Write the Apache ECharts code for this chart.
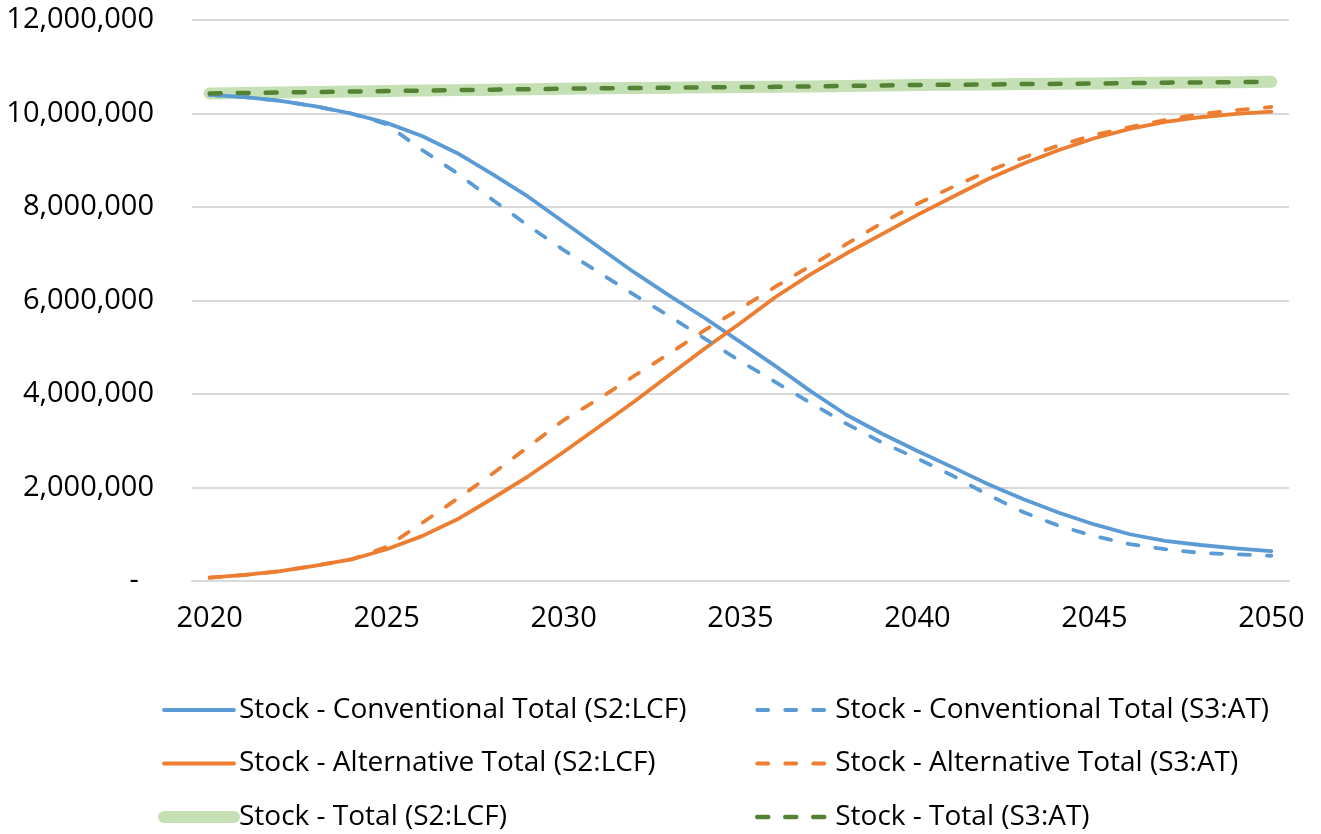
<!DOCTYPE html>
<html>
<head>
<meta charset="utf-8">
<script src="https://cdn.jsdelivr.net/npm/echarts@6/dist/echarts.min.js"></script>
<style>
  html, body { margin: 0; padding: 0; background: #fff; }
  #stock-chart { width: 1321px; height: 834px; }
</style>
</head>
<body>
<div id="stock-chart"></div>
<script>
// 年份
var years = [];
for (var y = 2020; y <= 2050; y++) { years.push(String(y)); }

// 数值（百万）
var convS2 = [10.40, 10.35, 10.27, 10.15, 10.00, 9.80, 9.52, 9.15, 8.70, 8.22, 7.68,
	7.14, 6.60, 6.10, 5.62, 5.11, 4.59, 4.05, 3.55, 3.15, 2.78,
	2.43, 2.07, 1.75, 1.46, 1.21, 1.00, 0.86, 0.77, 0.70, 0.64];
var convS3 = [10.40, 10.35, 10.27, 10.15, 10.00, 9.77, 9.22, 8.72, 8.15, 7.60, 7.08,
	6.60, 6.12, 5.66, 5.18, 4.70, 4.25, 3.80, 3.36, 2.96, 2.62,
	2.25, 1.84, 1.47, 1.18, 0.96, 0.79, 0.68, 0.60, 0.57, 0.54];
var altS2 = [0.07, 0.13, 0.21, 0.33, 0.46, 0.68, 0.96, 1.32, 1.77, 2.24, 2.76,
	3.30, 3.84, 4.41, 4.98, 5.52, 6.08, 6.57, 7.01, 7.42, 7.83,
	8.22, 8.60, 8.93, 9.22, 9.47, 9.67, 9.82, 9.92, 9.99, 10.04];
var altS3 = [0.07, 0.13, 0.21, 0.33, 0.46, 0.73, 1.24, 1.76, 2.30, 2.87, 3.44,
	3.90, 4.39, 4.87, 5.37, 5.83, 6.30, 6.75, 7.21, 7.66, 8.07,
	8.43, 8.77, 9.06, 9.32, 9.54, 9.71, 9.86, 9.99, 10.07, 10.14];
var totalS2 = [10.43, 10.44, 10.45, 10.46, 10.47, 10.48, 10.49, 10.50, 10.51, 10.52, 10.53,
	10.54, 10.545, 10.55, 10.56, 10.565, 10.57, 10.58, 10.59, 10.60, 10.61,
	10.615, 10.62, 10.63, 10.635, 10.64, 10.65, 10.66, 10.665, 10.67, 10.68];
var totalS3 = [10.43, 10.44, 10.45, 10.46, 10.47, 10.48, 10.49, 10.50, 10.51, 10.52, 10.53,
	10.54, 10.545, 10.55, 10.56, 10.565, 10.57, 10.58, 10.59, 10.60, 10.61,
	10.615, 10.62, 10.63, 10.635, 10.64, 10.65, 10.66, 10.665, 10.67, 10.68];

var names = {
	convS2: 'Stock - Conventional Total (S2:LCF)',
	convS3: 'Stock - Conventional Total (S3:AT)',
	altS2: 'Stock - Alternative Total (S2:LCF)',
	altS3: 'Stock - Alternative Total (S3:AT)',
	totalS2: 'Stock - Total (S2:LCF)',
	totalS3: 'Stock - Total (S3:AT)'
};

function toUnits(arr) {
	return arr.map(function (v) { return Math.round(v * 1000000); });
}

var fontName = '"Open Sans"';

function lineSeries(name, data, color, width, dash) {
	return {
		name: name,
		type: 'line',
		data: toUnits(data),
		symbol: 'none',
		smooth: false,
		animation: false,
		lineStyle: {
			color: color,
			width: width,
			type: dash ? dash : 'solid',
			cap: 'round',
			join: 'round'
		},
		itemStyle: { color: color }
	};
}

var legendText = { color: '#000', fontSize: 28, fontFamily: fontName };

function legendBlock(left, width, items) {
	return {
		orient: 'vertical',
		left: left,
		top: 696,
		padding: 0,
		itemWidth: width,
		itemHeight: 14,
		itemGap: 25.5,
		selectedMode: false,
		itemStyle: { opacity: 0 },
		lineStyle: { width: 'inherit' },
		textStyle: legendText,
		data: items
	};
}

var option = {
	backgroundColor: '#fff',
	grid: { left: 192, right: 32, top: 20, bottom: 253 },
	legend: [
		legendBlock(158, 70, [names.convS2, names.altS2, names.totalS2]),
		legendBlock(755, 73, [names.convS3, names.altS3, names.totalS3])
	],
	xAxis: {
		type: 'category',
		boundaryGap: true,
		data: years,
		axisTick: { show: false },
		axisLine: { lineStyle: { color: '#d9d9d9', width: 2 } },
		axisLabel: {
			interval: 4,
			margin: 23,
			color: '#000',
			fontSize: 29,
			fontFamily: fontName
		}
	},
	yAxis: {
		type: 'value',
		min: 0,
		max: 12000000,
		interval: 2000000,
		axisLine: { show: false },
		axisTick: { show: false },
		splitLine: { lineStyle: { color: '#d9d9d9', width: 2 } },
		axisLabel: {
			margin: 38,
			color: '#000',
			fontSize: 29,
			fontFamily: fontName,
			formatter: function (v) {
				if (v === 0) { return '-  '; }
				return v.toLocaleString('en-US');
			}
		}
	},
	series: [
		lineSeries(names.totalS2, totalS2, '#C5E0B4', 12, null),
		lineSeries(names.convS2, convS2, '#5B9BD5', 3.8, null),
		lineSeries(names.altS2, altS2, '#ED7D31', 3.8, null),
		lineSeries(names.convS3, convS3, '#5B9BD5', 3.8, [11, 17]),
		lineSeries(names.altS3, altS3, '#ED7D31', 3.8, [11, 17]),
		lineSeries(names.totalS3, totalS3, '#548235', 4.5, [11, 17])
	]
};

var chart = echarts.init(document.getElementById('stock-chart'));
chart.setOption(option);
</script>
</body>
</html>
